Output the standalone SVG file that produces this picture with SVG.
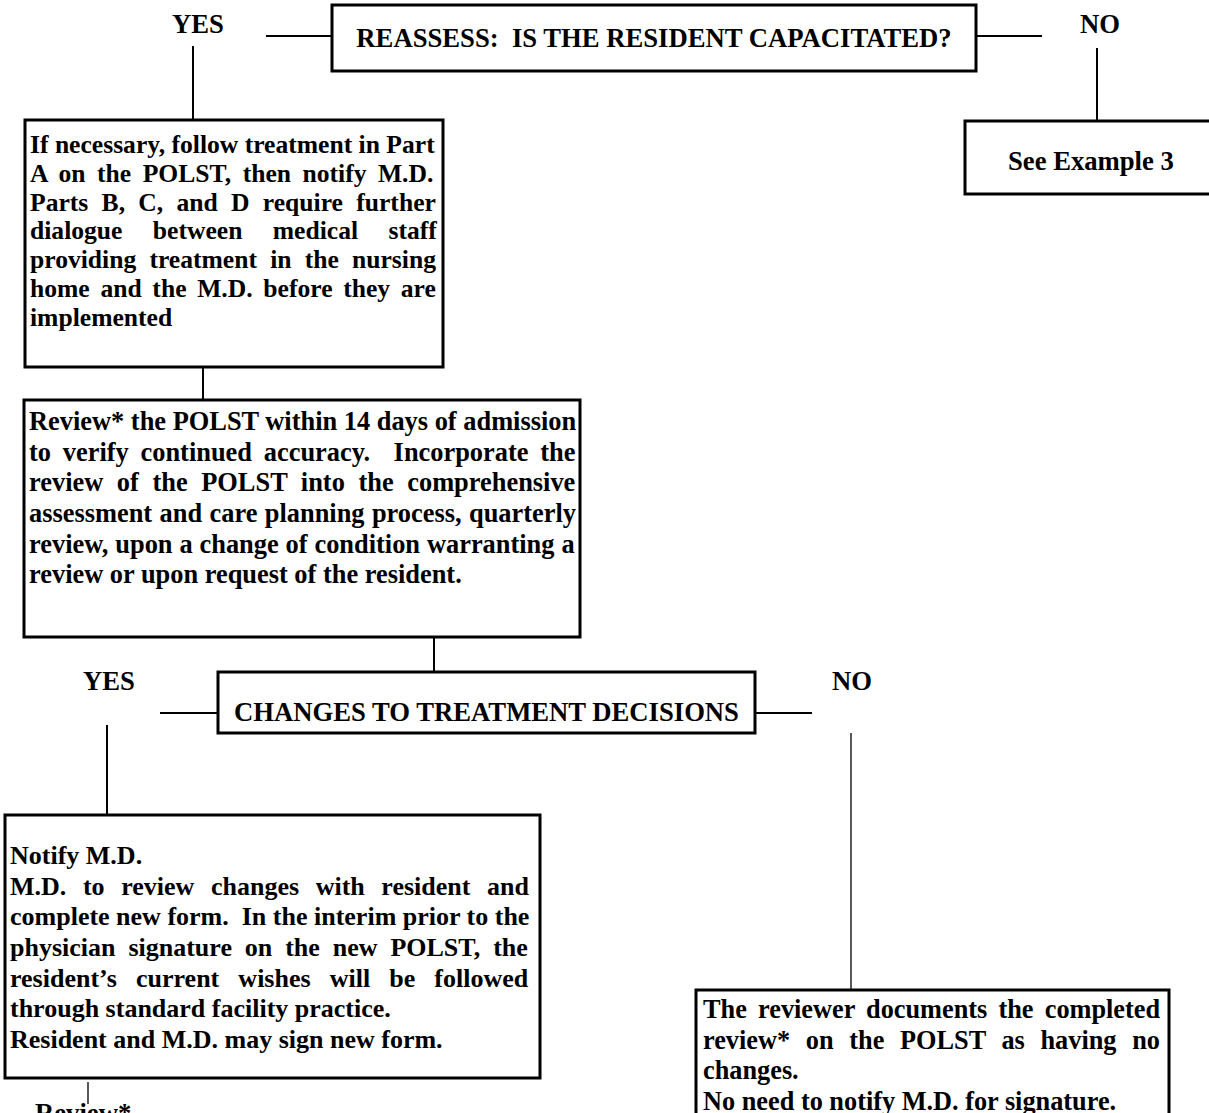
<svg xmlns="http://www.w3.org/2000/svg" width="1209" height="1113" viewBox="0 0 1209 1113">
<style>
  text { font-family: "Liberation Serif", "Times New Roman", serif; font-weight: bold; fill: #000; }
  .lbl { font-size: 26.67px; }
  .b2 { font-size: 25.6px; }
  .b3 { font-size: 26.4px; }
  .b4 { font-size: 26px; }
  .b5 { font-size: 26.3px; }
  .box { fill: #fff; stroke: #000; stroke-width: 3; }
  .ln { stroke: #000; stroke-width: 2; fill: none; }
  .thin { stroke: #000; stroke-width: 1.3; fill: none; }
</style>
<rect width="1209" height="1113" fill="#fff"/>
<g id="connectors">
  <line class="ln" x1="266" y1="36" x2="332" y2="36"/>
  <line class="ln" x1="976" y1="36" x2="1042" y2="36"/>
  <line class="ln" x1="193" y1="46" x2="193" y2="120"/>
  <line class="ln" x1="1097" y1="48" x2="1097" y2="121"/>
  <line class="ln" x1="203" y1="367" x2="203" y2="400"/>
  <line class="ln" x1="434" y1="637" x2="434" y2="672"/>
  <line class="ln" x1="160" y1="713" x2="218" y2="713"/>
  <line class="ln" x1="755" y1="713" x2="812" y2="713"/>
  <line class="ln" x1="107" y1="725" x2="107" y2="815"/>
  <line class="thin" x1="851" y1="733" x2="851" y2="990"/>
  <line class="thin" x1="88" y1="1082" x2="88" y2="1104"/>
</g>
<g id="label-yes-1"><text class="lbl" x="172" y="33">YES</text></g>
<g id="label-no-1"><text class="lbl" x="1080" y="33">NO</text></g>
<g id="node-reassess">
  <rect class="box" x="332" y="5" width="644" height="66"/>
  <text class="lbl" x="654" y="47" text-anchor="middle" xml:space="preserve">REASSESS:  IS THE RESIDENT CAPACITATED?</text>
</g>
<g id="node-see-example">
  <rect class="box" x="965" y="121" width="260" height="73"/>
  <text class="lbl" x="1008" y="170">See Example 3</text>
</g>
<g id="node-follow-treatment">
  <rect class="box" x="25" y="120" width="418" height="247"/>
  <text class="b2" x="30" y="153">If necessary, follow treatment in Part</text>
  <text class="b2" x="30" y="181.8" word-spacing="5.1">A on the POLST, then notify M.D.</text>
  <text class="b2" x="30" y="210.6" word-spacing="6.9">Parts B, C, and D require further</text>
  <text class="b2" x="30" y="239.4" word-spacing="24">dialogue between medical staff</text>
  <text class="b2" x="30" y="268.2" word-spacing="6.8">providing treatment in the nursing</text>
  <text class="b2" x="30" y="297" word-spacing="4.3">home and the M.D. before they are</text>
  <text class="b2" x="30" y="325.8">implemented</text>
</g>
<g id="node-review-polst">
  <rect class="box" x="24" y="400" width="556" height="237"/>
  <text class="b3" x="29" y="430">Review* the POLST within 14 days of admission</text>
  <text class="b3" x="29" y="460.7" word-spacing="5.2" xml:space="preserve">to verify continued accuracy.  Incorporate the</text>
  <text class="b3" x="29" y="491.3" word-spacing="7">review of the POLST into the comprehensive</text>
  <text class="b3" x="29" y="522" word-spacing="0.8">assessment and care planning process, quarterly</text>
  <text class="b3" x="29" y="552.7" word-spacing="0.3">review, upon a change of condition warranting a</text>
  <text class="b3" x="29" y="583.3">review or upon request of the resident.</text>
</g>
<g id="label-yes-2"><text class="lbl" x="83" y="690">YES</text></g>
<g id="label-no-2"><text class="lbl" x="832" y="690">NO</text></g>
<g id="node-changes">
  <rect class="box" x="218" y="672" width="537" height="61"/>
  <text class="lbl" x="486.5" y="721" text-anchor="middle">CHANGES TO TREATMENT DECISIONS</text>
</g>
<g id="node-notify-md">
  <rect class="box" x="5" y="815" width="535" height="263"/>
  <text class="b4" x="10" y="864">Notify M.D.</text>
  <text class="b4" x="10" y="894.7" word-spacing="10.1">M.D. to review changes with resident and</text>
  <text class="b4" x="10" y="925.3" xml:space="preserve">complete new form.  In the interim prior to the</text>
  <text class="b4" x="10" y="956" word-spacing="6.4">physician signature on the new POLST, the</text>
  <text class="b4" x="10" y="986.7" word-spacing="12.6">resident’s current wishes will be followed</text>
  <text class="b4" x="10" y="1017.3">through standard facility practice.</text>
  <text class="b4" x="10" y="1048">Resident and M.D. may sign new form.</text>
</g>
<g id="node-no-changes">
  <rect class="box" x="696" y="990" width="473" height="200"/>
  <text class="b5" x="703" y="1018" word-spacing="4.6">The reviewer documents the completed</text>
  <text class="b5" x="703" y="1048.5" word-spacing="9.1">review* on the POLST as having no</text>
  <text class="b5" x="703" y="1079">changes.</text>
  <text class="b5" x="703" y="1109.5">No need to notify M.D. for signature.</text>
</g>
<g id="label-review-bottom"><text class="lbl" x="35" y="1122">Review*</text></g>
</svg>
